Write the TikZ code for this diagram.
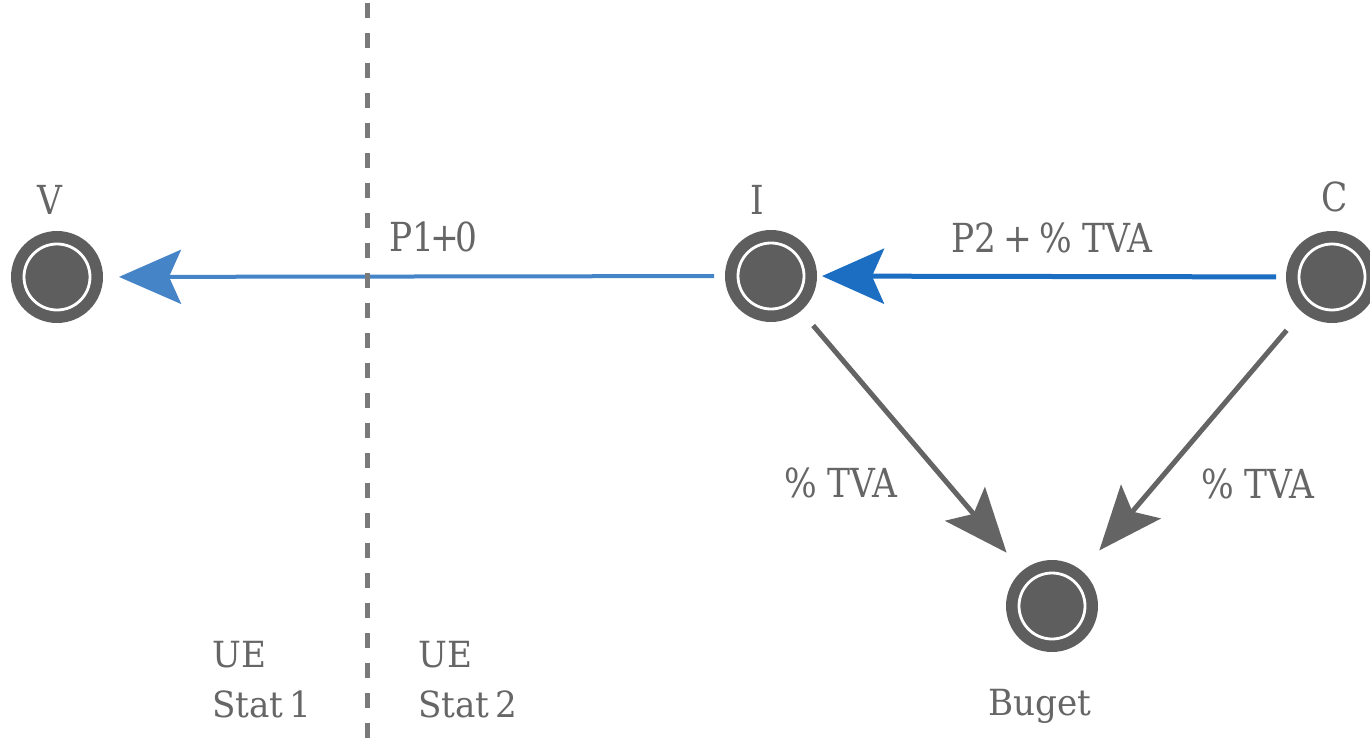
\documentclass[tikz,border=0pt]{standalone}
\usepackage{fontspec}
\setmainfont{DejaVu Serif}
\newfontfamily\bigfont{DejaVu Serif}[FakeStretch=0.86]
\newfontfamily\smallfont{DejaVu Serif}[FakeStretch=0.95]
\usetikzlibrary{arrows.meta}
\definecolor{nodegray}{HTML}{5E5E5E}
\definecolor{txtgray}{HTML}{666666}
\definecolor{lineblue}{HTML}{4684C8}
\definecolor{darkblue}{HTML}{1C6EC2}
\definecolor{arrgray}{HTML}{646464}
\definecolor{dashgray}{HTML}{7A7A7A}
\begin{document}
\begin{tikzpicture}[x=1pt,y=-1pt,
  agent/.style={circle,fill=nodegray,minimum size=92pt,inner sep=0pt,outer sep=0pt,
    path picture={\draw[white,line width=2.8pt] (path picture bounding box.center) circle (33pt);}},
  lbl/.style={text=txtgray,anchor=base,inner sep=0pt,font=\bigfont\fontsize{40}{46}\selectfont},
  sml/.style={text=txtgray,anchor=base west,inner sep=0pt,font=\smallfont\fontsize{36}{42}\selectfont},
  smlc/.style={text=txtgray,anchor=base,inner sep=0pt,font=\smallfont\fontsize{36}{42}\selectfont},
  bluearr/.style={lineblue,line width=4pt,-{Stealth[length=62pt,width=54pt,inset=12pt]}},
  darkarr/.style={darkblue,line width=5pt,-{Stealth[length=62pt,width=55pt,inset=12pt]}},
  grayarr/.style={arrgray,line width=5pt,-{Stealth[length=64pt,width=52pt,inset=13pt]}},
  divider/.style={dashgray,line width=5pt,dash pattern=on 15pt off 15pt}
]
\useasboundingbox (0,0) rectangle (1370,743);
\fill[white] (0,0) rectangle (1370,743);

% dashed border line
\coordinate (dtop) at (367,3);
\coordinate (dbot) at (367,743);

% nodes
\node[agent] (V) at (57,277) {};
\node[agent] (I) at (771,276) {};
\node[agent] (C) at (1332,277) {};
\node[agent] (B) at (1052,606) {};

% connectors
\draw[bluearr, shorten <=11pt, shorten >=16pt] (I) -- (V);
\draw[divider] (dtop) -- (dbot);
\draw[darkarr, shorten <=10pt, shorten >=5pt] (C) -- (I);
\draw[grayarr, shorten <=19pt, shorten >=24pt] (I) -- (B);
\draw[grayarr, shorten <=24pt, shorten >=27pt] (C) -- (B);

% labels
\node[lbl] (tV) at (50,215) {V};
\node[lbl] (tI) at (757,215) {I};
\node[lbl] (tC) at (1335,212) {C};
\node[lbl] (tP1) at (433,252) {P1\kern-4pt+\kern-4pt0};
\node[lbl] (tP2) at (1052,253) {P2\kern7pt+\kern7pt\%\kern10pt TVA};
\node[lbl] (tT1) at (841,497) {\%\kern10pt TVA};
\node[lbl] (tT2) at (1258,498) {\%\kern10pt TVA};
\node[sml] (ue1) at (212,667) {UE};
\node[sml] (st1) at (212,717) {Stat\kern6pt 1};
\node[sml] (ue2) at (418,667) {UE};
\node[sml] (st2) at (418,717) {Stat\kern6pt 2};
\node[smlc] (tB) at (1040,715) {Buget};
\end{tikzpicture}
\end{document}
